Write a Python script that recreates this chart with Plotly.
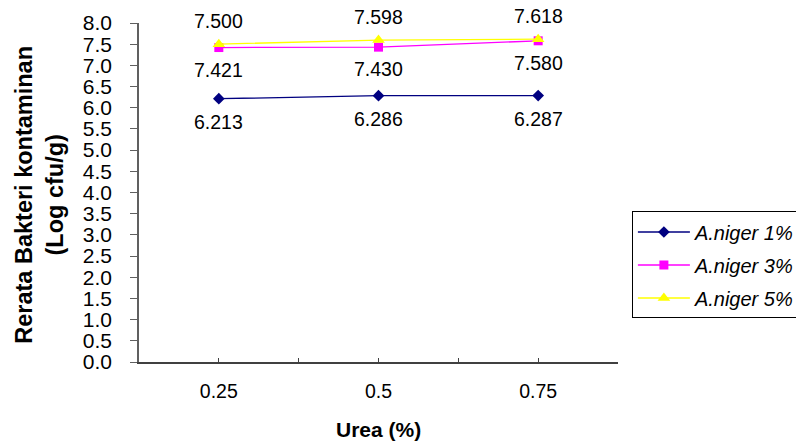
import plotly.graph_objects as go

categories = ["0.25", "0.5", "0.75"]
series_names = ["A.niger 1%", "A.niger 3%", "A.niger 5%"]
niger1 = [6.213, 6.286, 6.287]
niger3 = [7.421, 7.430, 7.580]
niger5 = [7.500, 7.598, 7.618]
y_ticks = [i * 0.5 for i in range(17)]

series = [niger1, niger3, niger5]
colors = ["#000080", "#FF00FF", "#FFFF00"]
symbols = ["diamond", "square", "triangle-up"]
sizes = [9, 9, 11]
label_shift = [-23, -22, 23]

xpos = [i + 1 for i in range(len(categories))]

fig = go.Figure()
for name, vals, c, s, sz in zip(series_names, series, colors, symbols, sizes):
    fig.add_trace(go.Scatter(
        x=xpos, y=vals, name=name, mode="lines+markers",
        line=dict(color=c, width=1.3),
        marker=dict(symbol=s, size=sz, color=c),
        legendgroup=name,
    ))

annotations = []
for vals, sh in zip(series, label_shift):
    for xv, v in zip(xpos, vals):
        annotations.append(dict(
            x=xv, y=v, xref="x", yref="y", text=f"{v:.3f}", showarrow=False,
            yshift=sh, font=dict(family="Liberation Sans, Arial", size=19.5, color="black"),
        ))

annotations.append(dict(
    x=-0.207, y=0.493, xref="paper", yref="paper", xanchor="center", yanchor="middle",
    text="<b>Rerata Bakteri kontaminan<br>(Log cfu/g)</b>", textangle=-90, showarrow=False,
    font=dict(family="Liberation Sans, Arial", size=23.5, color="black"),
))
annotations.append(dict(
    x=0.5, y=-0.2, xref="paper", yref="paper", xanchor="center", yanchor="middle",
    text="<b>Urea (%)</b>", showarrow=False,
    font=dict(family="Liberation Sans, Arial", size=21, color="black"),
))

tickvals = []
ticktext = []
for i, c in enumerate(categories):
    tickvals += [xpos[i] - 0.5, xpos[i]]
    ticktext += ["", c]
tickvals.append(xpos[-1] + 0.5)
ticktext.append("")

fig.update_layout(
    width=796, height=447,
    margin=dict(l=139, r=178, t=23, b=85, autoexpand=False),
    paper_bgcolor="white", plot_bgcolor="white",
    font=dict(family="Liberation Sans, Arial", color="black"),
    showlegend=True,
    legend=dict(
        x=1.029, y=0.444, xanchor="left", yanchor="top",
        bordercolor="black", borderwidth=1, bgcolor="white",
        font=dict(family="Liberation Sans, Arial", size=20, color="black", style="italic"),
        traceorder="grouped", tracegroupgap=4, itemwidth=52,
    ),
    annotations=annotations,
    xaxis=dict(
        range=[0.5, len(categories) + 0.5], tickmode="array", tickvals=tickvals, ticktext=ticktext,
        ticks="inside", ticklen=4, tickcolor="#404040", showline=True, linecolor="#404040",
        linewidth=1.5, showgrid=False, zeroline=False,
        tickfont=dict(size=19.5, color="black"), ticklabelstandoff=11,
    ),
    yaxis=dict(
        range=[0, 8], tickmode="array", tickvals=y_ticks, ticktext=[f"{v:.1f}" for v in y_ticks],
        ticks="outside", ticklen=7, tickcolor="#606060", showline=True, linecolor="#606060",
        linewidth=1.5, showgrid=False, zeroline=False,
        tickfont=dict(size=21, color="black"), ticklabelstandoff=14,
    ),
)

fig.write_html("out.html")
